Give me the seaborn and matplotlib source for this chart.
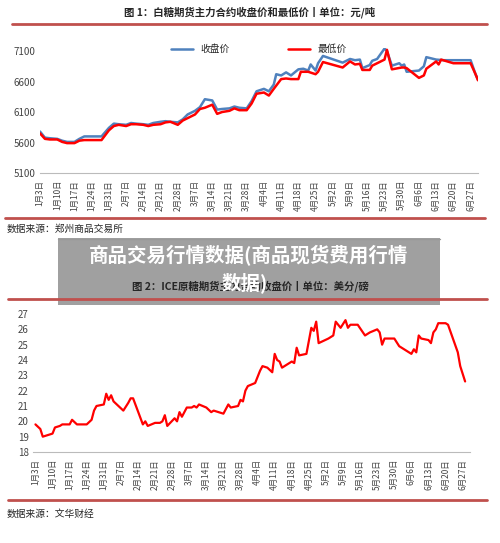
import numpy as np
import pandas as pd
import matplotlib
matplotlib.use("Agg")
import matplotlib.pyplot as plt
import matplotlib.dates as mdates
from matplotlib.patches import Rectangle
import seaborn as sns

sns.set_style("white")
plt.rcParams['font.family'] = ['Noto Sans CJK SC', 'DejaVu Sans']

YEAR = "2022"

# ─── CHART 1: ZCE sugar close / low ───────────────────────────────────────────
close_dates = ["1-3", "1-5", "1-7", "1-10", "1-12", "1-14", "1-17", "1-19", "1-21", "1-24", "1-28",
               "1-31", "2-2", "2-4", "2-7", "2-9", "2-11", "2-14", "2-16", "2-18", "2-21", "2-23",
               "2-25", "2-28", "3-2", "3-4", "3-7", "3-9", "3-11", "3-14", "3-16", "3-18", "3-21",
               "3-23", "3-25", "3-28", "3-30", "4-1", "4-4", "4-6", "4-8", "4-9", "4-11", "4-13",
               "4-15", "4-18", "4-20", "4-22", "4-23", "4-25", "4-26", "4-28", "5-6", "5-9", "5-11",
               "5-13", "5-14", "5-17", "5-18", "5-20", "5-23", "5-24", "5-26", "5-29", "5-30", "5-31",
               "6-1", "6-6", "6-8", "6-9", "6-13", "6-16", "6-20", "6-27", "6-29", "6-30"]
close_vals = [5780, 5680, 5670, 5660, 5630, 5610, 5610, 5660, 5700, 5700, 5700,
              5840, 5910, 5900, 5890, 5920, 5910, 5900, 5890, 5920, 5940, 5950,
              5940, 5930, 5980, 6060, 6120, 6180, 6310, 6290, 6140, 6150, 6160,
              6190, 6170, 6160, 6280, 6440, 6480, 6440, 6550, 6720, 6700, 6750,
              6700, 6800, 6810, 6780, 6880, 6780, 6900, 7020, 6910, 6970, 6950,
              6960, 6820, 6870, 6940, 6970, 7140, 7100, 6860, 6900, 6860, 6880,
              6760, 6780, 6850, 7000, 6960, 6950, 6950, 6950, 6720, 6630]

low_dates = ["1-3", "1-5", "1-7", "1-10", "1-12", "1-14", "1-17", "1-19", "1-21", "1-24", "1-28",
             "1-31", "2-2", "2-4", "2-7", "2-9", "2-11", "2-14", "2-16", "2-18", "2-21", "2-23",
             "2-25", "2-28", "3-2", "3-4", "3-7", "3-9", "3-11", "3-14", "3-16", "3-18", "3-21",
             "3-23", "3-25", "3-28", "3-30", "4-1", "4-4", "4-6", "4-8", "4-11", "4-13", "4-15",
             "4-18", "4-19", "4-22", "4-25", "4-26", "4-28", "5-6", "5-9", "5-11", "5-13", "5-14",
             "5-17", "5-18", "5-20", "5-23", "5-24", "5-26", "5-30", "5-31", "6-1", "6-6", "6-8",
             "6-9", "6-13", "6-14", "6-15", "6-20", "6-27", "6-29", "6-30"]
low_vals = [5750, 5660, 5650, 5650, 5610, 5590, 5590, 5630, 5640, 5640, 5640,
            5800, 5870, 5890, 5870, 5900, 5900, 5890, 5870, 5890, 5900, 5930,
            5940, 5890, 5960, 6000, 6060, 6150, 6170, 6220, 6070, 6100, 6120,
            6160, 6130, 6130, 6240, 6400, 6420, 6370, 6480, 6640, 6650, 6640,
            6640, 6760, 6760, 6720, 6760, 6920, 6830, 6930, 6880, 6890, 6790,
            6790, 6860, 6900, 6960, 7120, 6800, 6830, 6830, 6820, 6660, 6700,
            6810, 6930, 6880, 6960, 6900, 6900, 6720, 6620]

# ─── CHART 2: ICE raw sugar close ─────────────────────────────────────────────
ice_dates = ["1-3", "1-5", "1-6", "1-10", "1-11", "1-13", "1-14", "1-17", "1-18", "1-20", "1-24",
             "1-26", "1-27", "1-28", "1-31", "2-1", "2-2", "2-3", "2-4", "2-8", "2-10", "2-11",
             "2-12", "2-16", "2-17", "2-18", "2-21", "2-23", "2-24", "2-25", "2-26", "3-1", "3-2",
             "3-3", "3-4", "3-6", "3-8", "3-9", "3-10", "3-11", "3-14", "3-16", "3-17", "3-21",
             "3-23", "3-24", "3-27", "3-28", "3-29", "3-30", "3-31", "4-3", "4-5", "4-6", "4-8",
             "4-10", "4-11", "4-12", "4-13", "4-14", "4-18", "4-19", "4-20", "4-21", "4-24", "4-26",
             "4-27", "4-28", "4-29", "5-3", "5-5", "5-6", "5-8", "5-10", "5-11", "5-12", "5-15",
             "5-18", "5-20", "5-23", "5-24", "5-25", "5-26", "5-30", "6-1", "6-3", "6-6", "6-7",
             "6-8", "6-9", "6-10", "6-13", "6-14", "6-15", "6-16", "6-17", "6-20", "6-21", "6-23",
             "6-25", "6-26", "6-28"]
ice_vals = [19.8, 19.5, 19.0, 19.2, 19.6, 19.7, 19.8, 19.8, 20.1, 19.8, 19.8,
            20.1, 20.7, 21.0, 21.1, 21.8, 21.4, 21.7, 21.3, 20.7, 21.2, 21.5,
            21.5, 19.8, 20.0, 19.7, 19.9, 19.9, 20.0, 20.4, 19.7, 20.2, 20.0,
            20.6, 20.3, 20.9, 20.9, 21.0, 20.9, 21.1, 20.9, 20.6, 20.7, 20.5,
            21.1, 20.9, 21.0, 21.4, 21.3, 22.0, 22.3, 22.5, 23.3, 23.6, 23.5,
            23.2, 24.4, 24.0, 23.9, 23.5, 23.9, 23.8, 24.8, 24.3, 24.4, 26.1,
            25.9, 26.5, 25.1, 25.4, 25.6, 26.5, 26.1, 26.6, 26.1, 26.3, 26.3,
            25.6, 25.8, 26.0, 25.8, 25.0, 25.4, 25.4, 24.9, 24.7, 24.4, 24.7,
            24.5, 25.6, 25.4, 25.3, 25.1, 25.8, 26.0, 26.4, 26.4, 26.3, 25.4,
            24.5, 23.6, 22.6]


def to_dt(ds):
    return pd.to_datetime([f"{YEAR}-{d}" for d in ds])


tick_dates = pd.date_range(f"{YEAR}-01-03", f"{YEAR}-06-27", freq="7D")
tick_labels = [f"{d.month}月{d.day}日" for d in tick_dates]

W, H = 500, 543
fig = plt.figure(figsize=(5.0, 5.43), dpi=100)


def fx(px):
    return px / W


def fy(py):
    return 1 - py / H


def style_axis(ax, ymin, ymax, yticks, ylabels):
    ax.set_xlim(pd.Timestamp(f"{YEAR}-01-03"), pd.Timestamp(f"{YEAR}-06-30"))
    ax.set_ylim(ymin, ymax)
    ax.set_yticks(yticks)
    ax.set_yticklabels(ylabels, fontsize=7, color="#444444")
    ax.set_xticks(tick_dates)
    ax.set_xticklabels(tick_labels, rotation=90, fontsize=6, color="#444444")
    ax.tick_params(axis="x", length=3, color="#bbbbbb", pad=2)
    ax.tick_params(axis="y", length=0, pad=3)
    for s in ["top", "right", "left"]:
        ax.spines[s].set_visible(False)
    ax.spines["bottom"].set_color("#bbbbbb")
    ax.set_xlabel("")
    ax.set_ylabel("")


# chart 1
ax1 = fig.add_axes([fx(40), fy(173), fx(438), fy(48) - fy(173)])
df_close = pd.DataFrame({"date": to_dt(close_dates), "v": close_vals})
df_low = pd.DataFrame({"date": to_dt(low_dates), "v": low_vals})
sns.lineplot(data=df_close, x="date", y="v", ax=ax1, color="#4f81bd", lw=1.8, label="收盘价")
sns.lineplot(data=df_low, x="date", y="v", ax=ax1, color="#ff0000", lw=1.8, label="最低价")
style_axis(ax1, 5100, 7150, [5100, 5600, 6100, 6600, 7100], ["5100", "5600", "6100", "6600", "7100"])
ax1.legend(loc="upper center", bbox_to_anchor=(0.5, 1.1), ncol=2, frameon=False,
           fontsize=7, columnspacing=6, handlelength=2.2)

# chart 2
ax2 = fig.add_axes([fx(33), fy(452), fx(437), fy(314) - fy(452)])
df_ice = pd.DataFrame({"date": to_dt(ice_dates), "v": ice_vals})
sns.lineplot(data=df_ice, x="date", y="v", ax=ax2, color="#ff0000", lw=1.6)
style_axis(ax2, 18, 27, list(range(18, 28)), [str(v) for v in range(18, 28)])
ax2.set_xlim(pd.Timestamp(f"{YEAR}-01-02"), pd.Timestamp(f"{YEAR}-06-30"))

# titles, rules, sources
fig.text(0.5, fy(12), "图 1：白糖期货主力合约收盘价和最低价丨单位：元/吨", ha="center", va="center",
         fontsize=7.5, fontweight="bold")
fig.text(0.5, fy(286), "图 2：ICE原糖期货主力合约收盘价丨单位：美分/磅", ha="center", va="center",
         fontsize=7.5, fontweight="bold")
for y0, x0, x1 in [(24, 12, 487), (218, 5, 485), (299, 8, 487), (500, 8, 487)]:
    fig.add_artist(plt.Line2D([fx(x0), fx(x1)], [fy(y0), fy(y0)], color="#c0504d", lw=2))
fig.add_artist(plt.Line2D([fx(58), fx(440)], [fy(239), fy(239)], color="#999999", lw=1))
fig.text(fx(7), fy(229), "数据来源：郑州商品交易所", fontsize=7, va="center")
fig.text(fx(7), fy(514), "数据来源：文华财经", fontsize=7, va="center")

# overlay banner
fig.add_artist(Rectangle((fx(58), fy(305)), fx(440) - fx(58), fy(238) - fy(305),
                         transform=fig.transFigure, color="#888888", alpha=0.8, lw=0))
fig.text(fx(249), fy(256), "商品交易行情数据(商品现货费用行情", ha="center", va="center",
         fontsize=14, fontweight="bold", color="white")
fig.text(fx(245), fy(283), "数据)", ha="center", va="center",
         fontsize=14, fontweight="bold", color="white")

fig.savefig("out.png", dpi=100)
